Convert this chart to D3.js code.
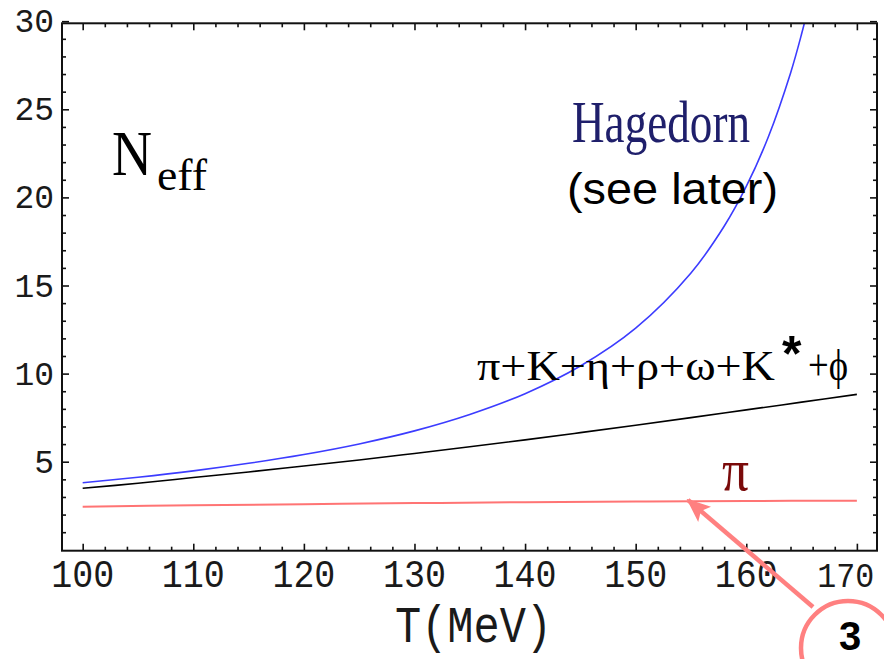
<!DOCTYPE html>
<html>
<head>
<meta charset="utf-8">
<script src="https://cdn.jsdelivr.net/npm/d3@7"></script>
<style>
  body { margin: 0; background: #fff; }
  svg { display: block; }
</style>
</head>
<body>
<div class="container"></div>
<script>
// values
const hagT = [100, 105, 110, 115, 120, 125, 130, 135, 140, 145, 150, 155, 158, 160, 162, 164, 165, 166];
const hagedorn = [3.81, 4.12, 4.48, 4.91, 5.41, 6.01, 6.75, 7.68, 8.86, 10.43, 12.58, 15.71, 18.36, 20.62, 23.44, 27.05, 29.27, 31.8];

const mesonT = [100, 105, 110, 115, 120, 125, 130, 135, 140, 145, 150, 155, 160, 165, 170];
const mesons = [3.49, 3.78, 4.1, 4.42, 4.76, 5.1, 5.47, 5.85, 6.24, 6.65, 7.07, 7.5, 7.94, 8.38, 8.82];

const pionT = [100, 110, 120, 130, 140, 150, 160, 170];
const pions = [2.45, 2.53, 2.59, 2.65, 2.7, 2.74, 2.77, 2.79];

const xMajor = [100, 110, 120, 130, 140, 150, 160, 170];
const yMajor = [5, 10, 15, 20, 25, 30];

const width = 884;
const height = 659;

const x = d3.scaleLinear().domain([98.13, 171.82]).range([62, 877]);
const y = d3.scaleLinear().domain([-0.05, 29.88]).range([550.7, 23.3]);

const xMinor = d3.range(100, 171, 2).filter(d => d % 10 !== 0);
const yMinor = d3.range(1, 30, 1).filter(d => d % 5 !== 0);

let svg = d3
  .select(".container")
  .append("svg")
  .attr("width", width)
  .attr("height", height);

let defs = svg.append("defs");

defs
  .append("clipPath")
  .attr("id", "plot-clip")
  .append("rect")
  .attr("x", 62)
  .attr("y", 23.3)
  .attr("width", 815)
  .attr("height", 527.4);

defs
  .append("marker")
  .attr("id", "head")
  .attr("markerUnits", "userSpaceOnUse")
  .attr("viewBox", "0 0 24 22")
  .attr("refX", 22)
  .attr("refY", 11)
  .attr("markerWidth", 24)
  .attr("markerHeight", 22)
  .attr("orient", "auto")
  .append("path")
  .attr("d", "M0,1 L24,11 L0,21 L5,11 Z")
  .attr("fill", "#ff8080");

// curves
const line = (xs, ys) =>
  d3
    .line()
    .x((d, i) => x(xs[i]))
    .y(d => y(d))
    .curve(d3.curveCatmullRom)(ys);

let curves = svg.append("g").attr("clip-path", "url(#plot-clip)");

curves
  .append("path")
  .attr("d", line(pionT, pions))
  .attr("fill", "none")
  .attr("stroke", "#ff7474")
  .attr("stroke-width", 2);

curves
  .append("path")
  .attr("d", line(mesonT, mesons))
  .attr("fill", "none")
  .attr("stroke", "#000")
  .attr("stroke-width", 1.6);

curves
  .append("path")
  .attr("d", line(hagT, hagedorn))
  .attr("fill", "none")
  .attr("stroke", "#3c3cff")
  .attr("stroke-width", 1.6);

// frame + inward ticks on all four sides
const tickStyle = g => {
  g.select(".domain").remove();
  g.selectAll("line").attr("stroke", "#111").attr("stroke-width", 1.6);
};

svg.append("g").attr("transform", "translate(0,550.7)")
  .call(d3.axisBottom(x).tickValues(xMinor).tickSize(-4).tickFormat(""))
  .call(tickStyle);
let xAxis = svg.append("g").attr("transform", "translate(0,550.7)")
  .call(d3.axisBottom(x).tickValues(xMajor).tickSize(-7).tickPadding(0))
  .call(tickStyle);
// last label sits a bit left of its tick, as in the original
xAxis.selectAll("text")
  .attr("text-anchor", "start")
  .attr("x", d => (d === 170 ? -40 : -32))
  .attr("y", 36)
  .attr("dy", 0)
  .attr("font-family", "Liberation Mono")
  .attr("font-size", d => (d === 170 ? 35 : 39))
  .attr("fill", "#1a1a1a")
  .attr("textLength", d => (d === 170 ? 57 : 63))
  .attr("lengthAdjust", "spacingAndGlyphs");

svg.append("g").attr("transform", "translate(0,23.3)")
  .call(d3.axisTop(x).tickValues(xMinor).tickSize(-4).tickFormat(""))
  .call(tickStyle);
svg.append("g").attr("transform", "translate(0,23.3)")
  .call(d3.axisTop(x).tickValues(xMajor).tickSize(-7).tickFormat(""))
  .call(tickStyle);

svg.append("g").attr("transform", "translate(62,0)")
  .call(d3.axisLeft(y).tickValues(yMinor).tickSize(-4).tickFormat(""))
  .call(tickStyle);
let yAxis = svg.append("g").attr("transform", "translate(62,0)")
  .call(d3.axisLeft(y).tickValues(yMajor).tickSize(-7).tickPadding(8))
  .call(tickStyle);
yAxis.selectAll("text")
  .attr("font-family", "Liberation Mono")
  .attr("font-size", 33)
  .attr("fill", "#1a1a1a");

svg.append("g").attr("transform", "translate(877,0)")
  .call(d3.axisRight(y).tickValues(yMinor).tickSize(-4).tickFormat(""))
  .call(tickStyle);
svg.append("g").attr("transform", "translate(877,0)")
  .call(d3.axisRight(y).tickValues(yMajor).tickSize(-7).tickFormat(""))
  .call(tickStyle);

svg
  .append("rect")
  .attr("x", 62)
  .attr("y", 23.3)
  .attr("width", 815)
  .attr("height", 527.4)
  .attr("fill", "none")
  .attr("stroke", "#111")
  .attr("stroke-width", 2);

// labels
const label = (txt, px, py, font, size, len, color) =>
  svg
    .append("text")
    .attr("x", px)
    .attr("y", py)
    .attr("font-family", font)
    .attr("font-size", size)
    .attr("fill", color || "#000")
    .attr("textLength", len)
    .attr("lengthAdjust", "spacingAndGlyphs")
    .text(txt);

label("T(MeV)", 395, 642, "Liberation Mono", 52, 157, "#1a1a1a");

label("N", 112, 175, "Liberation Serif", 63, 40);
label("eff", 157, 190, "Liberation Serif", 44, 50);

label("Hagedorn", 572, 142, "Liberation Serif", 59, 178, "#1f1f6b");
label("(see later)", 567, 204, "Liberation Sans", 44, 211);

label("π+K+η+ρ+ω+K", 477, 380, "Liberation Serif", 42, 298);
svg
  .append("text")
  .attr("x", 782)
  .attr("y", 371)
  .attr("font-family", "Liberation Sans")
  .attr("font-weight", "bold")
  .attr("font-size", 50)
  .text("*");
label("+ϕ", 808, 380, "Liberation Serif", 44, 40);

label("π", 722, 490, "Liberation Serif", 60, 27, "#7a0a0a");

// annotation
svg
  .append("line")
  .attr("x1", 813)
  .attr("y1", 607)
  .attr("x2", 688)
  .attr("y2", 500)
  .attr("stroke", "#ff8080")
  .attr("stroke-width", 4.5)
  .attr("marker-end", "url(#head)");

svg
  .append("circle")
  .attr("cx", 848)
  .attr("cy", 648)
  .attr("r", 47)
  .attr("fill", "none")
  .attr("stroke", "#ff8080")
  .attr("stroke-width", 4.5);

svg
  .append("text")
  .attr("x", 850)
  .attr("y", 650)
  .attr("text-anchor", "middle")
  .attr("font-family", "Liberation Sans")
  .attr("font-weight", "bold")
  .attr("font-size", 40)
  .text("3");
</script>
</body>
</html>
